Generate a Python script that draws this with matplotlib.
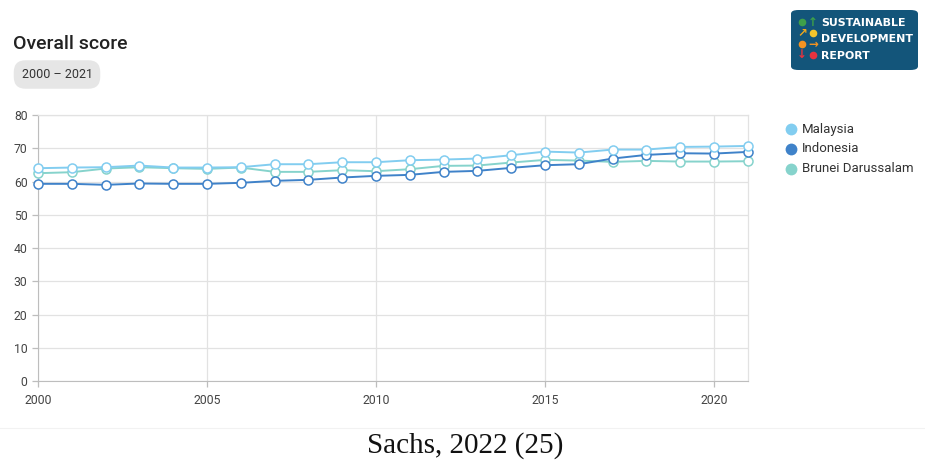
import matplotlib.pyplot as plt
from matplotlib.patches import FancyBboxPatch
from matplotlib import font_manager

years = list(range(2000, 2022))
malaysia = [64.0, 64.2, 64.3, 64.8, 64.2, 64.2, 64.3, 65.2, 65.2, 65.8, 65.8,
            66.4, 66.6, 66.9, 67.9, 69.0, 68.7, 69.6, 69.6, 70.4, 70.5, 70.7]
indonesia = [59.3, 59.3, 59.0, 59.4, 59.3, 59.3, 59.6, 60.2, 60.5, 61.2, 61.7,
             62.0, 62.9, 63.2, 64.1, 64.9, 65.2, 66.9, 68.0, 68.5, 68.4, 68.9]
brunei = [62.5, 62.8, 63.9, 64.3, 64.0, 63.8, 64.2, 62.9, 62.9, 63.4, 63.1,
          63.7, 64.7, 64.8, 65.7, 66.5, 66.3, 65.9, 66.2, 66.0, 66.0, 66.1]
series_names = ['Malaysia', 'Indonesia', 'Brunei Darussalam']
series_colors = ['#82cdf0', '#3f82c9', '#86d3cc']
x_ticks = [2000, 2005, 2010, 2015, 2020]
y_ticks = [0, 10, 20, 30, 40, 50, 60, 70, 80]

plt.rcParams['font.family'] = ['Roboto', 'DejaVu Sans']

W, H = 925, 463


def fx(px):
    return px / W


def fy(py):
    return 1 - py / H


fig = plt.figure(figsize=(9.25, 4.63), dpi=100)
ax = fig.add_axes([0.0411, 0.1771, 0.7672, 0.5745])

# lines drawn back to front
for vals, name, col, z in [(brunei, series_names[2], series_colors[2], 3),
                           (indonesia, series_names[1], series_colors[1], 4),
                           (malaysia, series_names[0], series_colors[0], 5)]:
    ax.plot(years, vals, color=col, lw=1.4, marker='o', ms=6.5,
            mfc='white', mec=col, mew=1.1, zorder=z, clip_on=False)

ax.set_xlim(2000, 2021)
ax.set_ylim(0, 80)
ax.set_xticks(x_ticks)
ax.set_yticks(y_ticks)
ax.grid(True, color='#e2e2e2', lw=0.9)
ax.set_axisbelow(True)
for s in ['top', 'right']:
    ax.spines[s].set_color('#e2e2e2')
    ax.spines[s].set_linewidth(0.9)
ax.spines['left'].set_color('#bdbdbd')
ax.spines['bottom'].set_color('#bdbdbd')
ax.tick_params(axis='both', colors='#bdbdbd', length=4, width=0.9,
               labelcolor='#444444', labelsize=8.8)
ax.tick_params(axis='x', pad=5)

# title and period chip
fig.text(fx(13), fy(44), 'Overall score', fontsize=14, fontweight='medium',
         color='#222222', va='center', ha='left')
fig.text(fx(57), fy(74.5), '2000 – 2021', fontsize=9, color='#333333',
         ha='center', va='center',
         bbox=dict(boxstyle='round,pad=0.62,rounding_size=0.95', fc='#e6e6e6', ec='none'))

# legend
for i, (name, col) in enumerate(zip(series_names, series_colors)):
    y = fy(129 + 20 * i)
    fig.add_artist(plt.Line2D([fx(791)], [y], marker='o', ms=8.5, mfc=col,
                              mec='none', transform=fig.transFigure))
    fig.text(fx(802), y, name, fontsize=9.5, color='#333333', va='center', ha='left')

# report badge
badge = FancyBboxPatch((fx(791), fy(70)), fx(127), 60 / H,
                       boxstyle='round,pad=0,rounding_size=0.008',
                       transform=fig.transFigure, fc='#13557a', ec='none')
fig.patches.append(badge)
icon_rows = [(('dot', '#3ea04a'), ('up', '#3ea04a')),
             (('ne', '#f0a81d'), ('dot', '#f3c42b')),
             (('dot', '#f39322'), ('right', '#f39322')),
             (('down', '#e8333f'), ('dot', '#e8333f'))]
arrow_chars = {'up': '↑', 'ne': '↗', 'right': '→', 'down': '↓'}
for row, pair in enumerate(icon_rows):
    y = fy(22 + 11 * row)
    for k, (kind, col) in enumerate(pair):
        x = fx(802 + 11 * k)
        if kind == 'dot':
            fig.add_artist(plt.Line2D([x], [y], marker='o', ms=5.5, mfc=col,
                                      mec='none', transform=fig.transFigure))
        else:
            fig.text(x, y, arrow_chars[kind], color=col, fontsize=8.5, fontweight='bold',
                     ha='center', va='center', family='DejaVu Sans')

names = {f.name for f in font_manager.fontManager.ttflist}
badge_font = 'Liberation Sans Narrow' if 'Liberation Sans Narrow' in names else 'DejaVu Sans'
renderer = fig.canvas.get_renderer()
words = []
for row, word in enumerate(['SUSTAINABLE', 'DEVELOPMENT', 'REPORT']):
    words.append(fig.text(fx(821), fy(23 + 16.5 * row), word, color='white',
                          fontsize=11, fontweight='bold', ha='left', va='center',
                          family=badge_font))
# shrink the badge wording so the widest line fits inside
widest = max(t.get_window_extent(renderer).width for t in words)
scale = min(1.0, 92 / widest)
for t in words:
    t.set_fontsize(11 * scale)

# source caption
fig.add_artist(plt.Line2D([0, 1], [fy(428)] * 2, color='#f2f2f2', lw=0.8))
fig.text(0.503, fy(446), 'Sachs, 2022 (25)', fontsize=21, color='#111111',
         family='Liberation Serif', ha='center', va='center')

fig.savefig('out.png', dpi=100)
